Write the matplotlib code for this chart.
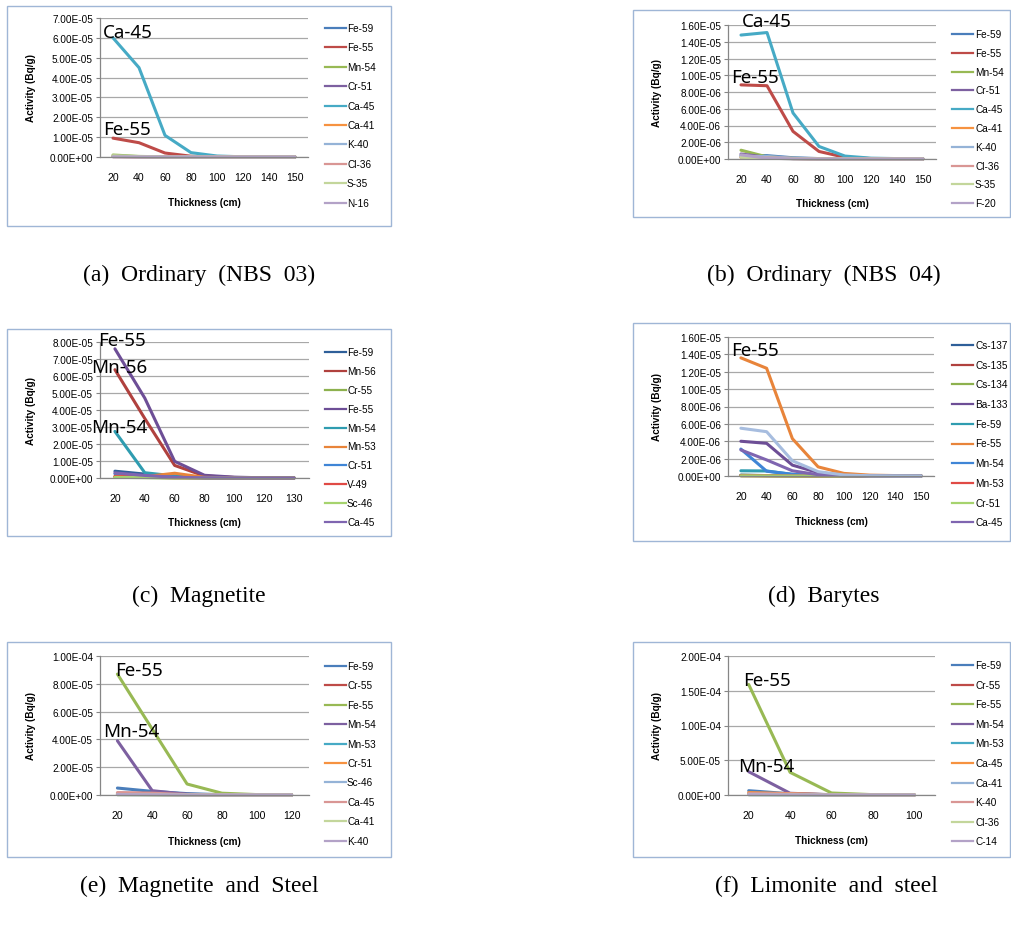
import matplotlib
matplotlib.use('Agg')
import matplotlib.pyplot as plt
from matplotlib.patches import Rectangle
from matplotlib.lines import Line2D

W, H = 1011, 929

# ---- data ----
# (a) Ordinary (NBS 03)
a_thickness = [20, 40, 60, 80, 100, 120, 140, 150]
a_nuclides = ['Fe-59', 'Fe-55', 'Mn-54', 'Cr-51', 'Ca-45', 'Ca-41', 'K-40', 'Cl-36', 'S-35', 'N-16']
a_activity = [
    [3e-7, 2e-7, 6e-8, 1e-8, 0, 0, 0, 0],
    [9.5e-6, 7.2e-6, 2.0e-6, 4e-7, 8e-8, 1e-8, 0, 0],
    [1.0e-6, 3e-7, 8e-8, 1e-8, 0, 0, 0, 0],
    [2e-7, 1e-7, 2e-8, 0, 0, 0, 0, 0],
    [6.0e-5, 4.5e-5, 1.09e-5, 2.2e-6, 5e-7, 1e-7, 2e-8, 0],
    [2e-7, 1e-7, 3e-8, 1e-8, 0, 0, 0, 0],
    [4e-7, 2e-7, 5e-8, 1e-8, 0, 0, 0, 0],
    [3e-7, 2e-7, 5e-8, 1e-8, 0, 0, 0, 0],
    [6e-7, 2e-7, 5e-8, 1e-8, 0, 0, 0, 0],
    [1e-7, 5e-8, 1e-8, 0, 0, 0, 0, 0],
]

# (b) Ordinary (NBS 04)
b_thickness = [20, 40, 60, 80, 100, 120, 140, 150]
b_nuclides = ['Fe-59', 'Fe-55', 'Mn-54', 'Cr-51', 'Ca-45', 'Ca-41', 'K-40', 'Cl-36', 'S-35', 'F-20']
b_activity = [
    [4e-7, 4e-7, 1.5e-7, 5e-8, 1e-8, 0, 0, 0],
    [8.85e-6, 8.75e-6, 3.3e-6, 9e-7, 2e-7, 5e-8, 1e-8, 0],
    [1.05e-6, 2.5e-7, 8e-8, 2e-8, 0, 0, 0, 0],
    [6e-7, 2e-7, 5e-8, 1e-8, 0, 0, 0, 0],
    [1.48e-5, 1.51e-5, 5.5e-6, 1.5e-6, 3.5e-7, 1e-7, 5e-8, 1e-8],
    [2e-7, 2e-7, 6e-8, 2e-8, 0, 0, 0, 0],
    [3e-7, 3e-7, 1e-7, 3e-8, 1e-8, 0, 0, 0],
    [2e-7, 1.5e-7, 5e-8, 1e-8, 0, 0, 0, 0],
    [2e-7, 1e-7, 3e-8, 1e-8, 0, 0, 0, 0],
    [5e-7, 1e-7, 2e-8, 0, 0, 0, 0, 0],
]

# (c) Magnetite
c_thickness = [20, 40, 60, 80, 100, 120, 130]
c_nuclides = ['Fe-59', 'Mn-56', 'Cr-55', 'Fe-55', 'Mn-54', 'Mn-53', 'Cr-51', 'V-49', 'Sc-46', 'Ca-45']
c_activity = [
    [4.0e-6, 2.3e-6, 1.0e-6, 2e-7, 5e-8, 1e-8, 0],
    [6.37e-5, 3.5e-5, 7.4e-6, 1.2e-6, 3e-7, 5e-8, 0],
    [6e-7, 3e-7, 1e-7, 2e-8, 0, 0, 0],
    [7.6e-5, 4.7e-5, 9.8e-6, 1.6e-6, 5e-7, 1e-7, 2e-8],
    [2.74e-5, 3.1e-6, 1.2e-6, 2e-7, 5e-8, 1e-8, 0],
    [8e-7, 8e-7, 2.8e-6, 4e-7, 1e-7, 2e-8, 0],
    [2.5e-6, 1.2e-6, 4e-7, 1e-7, 2e-8, 0, 0],
    [1.0e-6, 5e-7, 1e-7, 2e-8, 0, 0, 0],
    [4e-7, 2e-7, 5e-8, 1e-8, 0, 0, 0],
    [3.0e-6, 1.5e-6, 4e-7, 1e-7, 2e-8, 0, 0],
]

# (d) Barytes
d_thickness = [20, 40, 60, 80, 100, 120, 140, 150]
d_nuclides = ['Cs-137', 'Cs-135', 'Cs-134', 'Ba-133', 'Fe-59', 'Fe-55', 'Mn-54', 'Mn-53', 'Cr-51', 'Ca-45']
d_activity = [
    [1e-7, 5e-8, 2e-8, 0, 0, 0, 0, 0],
    [3e-8, 2e-8, 1e-8, 0, 0, 0, 0, 0],
    [8e-8, 4e-8, 1e-8, 0, 0, 0, 0, 0],
    [4.0e-6, 3.76e-6, 1.25e-6, 4e-7, 1e-7, 3e-8, 1e-8, 0],
    [6e-7, 5.8e-7, 1.8e-7, 5e-8, 1e-8, 0, 0, 0],
    [1.36e-5, 1.24e-5, 4.3e-6, 1.05e-6, 3e-7, 1e-7, 5e-8, 1e-8],
    [3.1e-6, 5.5e-7, 2e-7, 5e-8, 1e-8, 0, 0, 0],
    [5e-8, 3e-8, 1e-8, 0, 0, 0, 0, 0],
    [2e-8, 1e-8, 0, 0, 0, 0, 0, 0],
    [3.0e-6, 1.85e-6, 6e-7, 1.5e-7, 3e-8, 1e-8, 0, 0],
]
# one more series is drawn in (d) but cut off from the legend
d_extra = [5.5e-6, 5.1e-6, 1.75e-6, 5e-7, 1.2e-7, 3e-8, 1e-8, 0]

# (e) Magnetite and Steel
e_thickness = [20, 40, 60, 80, 100, 120]
e_nuclides = ['Fe-59', 'Cr-55', 'Fe-55', 'Mn-54', 'Mn-53', 'Cr-51', 'Sc-46', 'Ca-45', 'Ca-41', 'K-40']
e_activity = [
    [5.0e-6, 2.6e-6, 1.0e-6, 2e-7, 5e-8, 0],
    [1.4e-6, 1.2e-6, 4e-7, 1e-7, 2e-8, 0],
    [8.7e-5, 4.74e-5, 7.9e-6, 1.3e-6, 3e-7, 5e-8],
    [3.9e-5, 3.1e-6, 5e-7, 1e-7, 2e-8, 0],
    [3e-7, 2e-7, 5e-8, 1e-8, 0, 0],
    [5e-7, 3e-7, 1e-7, 2e-8, 0, 0],
    [6e-7, 4e-7, 1e-7, 2e-8, 0, 0],
    [1.6e-6, 1.3e-6, 3e-7, 5e-8, 1e-8, 0],
    [2e-7, 1e-7, 3e-8, 0, 0, 0],
    [3e-7, 2e-7, 5e-8, 1e-8, 0, 0],
]

# (f) Limonite and steel
f_thickness = [20, 40, 60, 80, 100]
f_nuclides = ['Fe-59', 'Cr-55', 'Fe-55', 'Mn-54', 'Mn-53', 'Ca-45', 'Ca-41', 'K-40', 'Cl-36', 'C-14']
f_activity = [
    [6.2e-6, 1.8e-6, 4e-7, 1e-7, 0],
    [2e-6, 1e-6, 2e-7, 5e-8, 0],
    [1.59e-4, 3.26e-5, 2.9e-6, 5e-7, 1e-7],
    [3.35e-5, 2.5e-6, 4e-7, 1e-7, 0],
    [5e-7, 3e-7, 1e-7, 0, 0],
    [3.5e-6, 2.0e-6, 3e-7, 5e-8, 0],
    [1e-6, 6e-7, 1e-7, 0, 0],
    [2e-6, 1.5e-6, 3e-7, 5e-8, 0],
    [5e-7, 3e-7, 5e-8, 0, 0],
    [5e-7, 3e-7, 5e-8, 0, 0],
]

# ---- styles ----
office = ['#4A7EBB', '#BE4B48', '#98B954', '#7D60A0', '#46AAC5',
          '#F69240', '#95B3D7', '#D99694', '#C3D69B', '#B3A2C7']
office_dark = ['#2E5F99', '#B0413E', '#8DB14E', '#6D4E96', '#2F9CB0',
               '#E8843A', '#3F85D6', '#E04A45', '#A6D36E', '#7F65B0']

TICK_FONT = 'Liberation Sans'


def fr(x0, y0, x1, y1):
    return [x0 / W, 1 - y1 / H, (x1 - x0) / W, (y1 - y0) / H]


def draw_panel(fig, thickness, nuclides, activity, colors, ymax, ystep,
               frame, plot, leg, xtitle_y, ytitle_x, caption, cap_xy, notes,
               extra=None, extra_color=None):
    # chart frame
    fx0, fy0, fx1, fy1 = frame
    fig.add_artist(Rectangle((fx0 / W, 1 - fy1 / H), (fx1 - fx0) / W, (fy1 - fy0) / H,
                             transform=fig.transFigure, fill=False,
                             ec='#9FB6D6', lw=1.0))
    ax = fig.add_axes(fr(*plot))
    n = len(thickness)
    xs = list(range(n))
    for vals, name, col in zip(activity, nuclides, colors):
        ax.plot(xs, vals, color=col, lw=2.2, solid_joinstyle='round',
                solid_capstyle='round', clip_on=False)
    if extra is not None:
        ax.plot(xs, extra, color=extra_color, lw=2.2, solid_joinstyle='round',
                solid_capstyle='round', clip_on=False)
    ax.set_xlim(-0.5, n - 0.5)
    ax.set_ylim(0, ymax)
    k = int(round(ymax / ystep))
    yt = [i * ystep for i in range(k + 1)]
    ax.set_yticks(yt)
    ax.set_yticklabels([f'{v:.2E}' for v in yt], fontsize=7.2, family=TICK_FONT)
    ax.set_xticks(xs)
    ax.set_xticklabels([str(t) for t in thickness], fontsize=7.6, family=TICK_FONT)
    ax.tick_params(axis='x', length=0, pad=11)
    ax.tick_params(axis='y', length=3, width=0.8, color='#868686', pad=2)
    for s in ['top', 'right']:
        ax.spines[s].set_visible(False)
    for s in ['left', 'bottom']:
        ax.spines[s].set_color('#868686')
        ax.spines[s].set_linewidth(0.9)
    ax.yaxis.grid(True, color='#A8A8A8', lw=0.9)
    ax.set_axisbelow(True)
    ax.patch.set_alpha(0)

    # axis titles
    px0, py0, px1, py1 = plot
    fig.text((px0 + px1) / 2 / W, 1 - xtitle_y / H, 'Thickness (cm)',
             ha='center', va='center', fontsize=7.2, fontweight='bold', family=TICK_FONT)
    fig.text(ytitle_x / W, 1 - (py0 + py1) / 2 / H, 'Activity (Bq/g)',
             ha='center', va='center', rotation=90, fontsize=7.2,
             fontweight='bold', family=TICK_FONT)

    # legend
    lx0, lx1, ltx, ly0, ldy = leg
    for i, (name, col) in enumerate(zip(nuclides, colors)):
        y = 1 - (ly0 + i * ldy) / H
        fig.add_artist(Line2D([lx0 / W, lx1 / W], [y, y], color=col, lw=1.6,
                              transform=fig.transFigure))
        fig.text(ltx / W, y, name, ha='left', va='center', fontsize=7.2, family=TICK_FONT)

    # callouts on the dominant curves
    for name, dx, dy in notes:
        vals = activity[nuclides.index(name)]
        ax.annotate(name, xy=(0, vals[0]), xytext=(dx, dy), textcoords='offset pixels',
                    ha='left', va='center', fontsize=13.5, family='Noto Sans',
                    annotation_clip=False)

    # caption
    fig.text(cap_xy[0] / W, 1 - cap_xy[1] / H, caption, ha='center', va='center',
             fontsize=17, family='Liberation Serif')


fig = plt.figure(figsize=(W / 100, H / 100), dpi=100)

draw_panel(fig, a_thickness, a_nuclides, a_activity, office, 7e-5, 1e-5,
           (7, 7, 391, 227), (100, 19, 308, 158), (325, 346, 347, 29, 19.4),
           203, 31, '(a)  Ordinary  (NBS  03)', (199, 275),
           [('Ca-45', -10, 6), ('Fe-55', -10, 9)])

draw_panel(fig, b_thickness, b_nuclides, b_activity, office, 1.6e-5, 2e-6,
           (633, 11, 1010, 218), (728, 26, 936, 160), (952, 973, 975, 35, 18.8),
           204, 657, '(b)  Ordinary  (NBS  04)', (824, 275),
           [('Ca-45', 1, 14), ('Fe-55', -10, 8)])

draw_panel(fig, c_thickness, c_nuclides, c_activity, office_dark, 8e-5, 1e-5,
           (7, 330, 391, 537), (100, 343, 309, 479), (325, 346, 347, 353, 18.9),
           523, 31, '(c)  Magnetite', (199, 596),
           [('Fe-55', -17, 9), ('Mn-56', -24, 3), ('Mn-54', -24, 4)])

draw_panel(fig, d_thickness, d_nuclides, d_activity, office_dark, 1.6e-5, 2e-6,
           (633, 324, 1010, 542), (728, 338, 934, 477), (952, 973, 975, 346, 19.7),
           522, 657, '(d)  Barytes', (824, 596),
           [('Fe-55', -10, 8)], extra=d_extra, extra_color='#A7BDDF')

draw_panel(fig, e_thickness, e_nuclides, e_activity, office, 1e-4, 2e-5,
           (7, 643, 391, 858), (100, 657, 309, 796), (325, 346, 347, 667, 19.4),
           842, 31, '(e)  Magnetite  and  Steel', (199, 886),
           [('Fe-55', -2, 4), ('Mn-54', -14, 10)])

draw_panel(fig, f_thickness, f_nuclides, f_activity, office, 2e-4, 5e-5,
           (633, 643, 1010, 858), (728, 657, 935, 796), (952, 973, 975, 666, 19.6),
           841, 657, '(f)  Limonite  and  steel', (826, 886),
           [('Fe-55', -6, 4), ('Mn-54', -11, 6)])

fig.savefig('out.png', dpi=100)
